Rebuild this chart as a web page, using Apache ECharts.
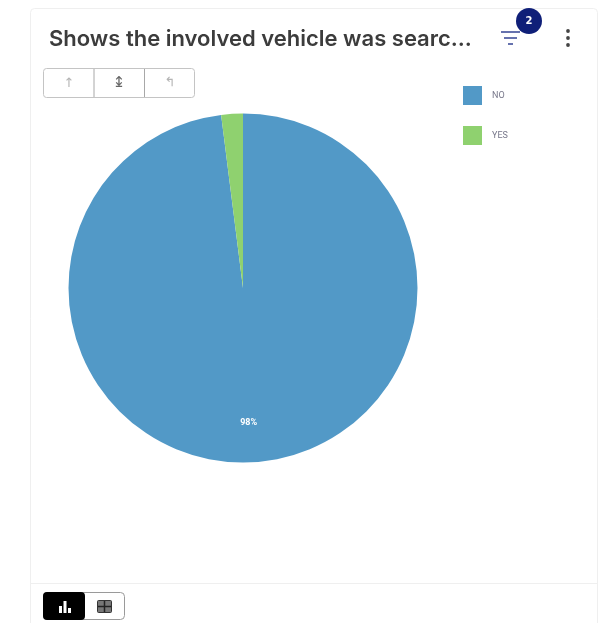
<!DOCTYPE html>
<html>
<head>
<meta charset="utf-8">
<style>
  html, body { margin: 0; padding: 0; background: #fff; }
  #chart { width: 608px; height: 623px; }
</style>
<script src="https://cdn.jsdelivr.net/npm/echarts@6/dist/echarts.min.js"></script>
</head>
<body>
<div id="chart"></div>
<script>
const categories = ['NO', 'YES'];
const shares = [98, 2];
const colors = ['#5299c7', '#8fd16f'];
const titleText = 'Shows the involved vehicle was searc...';
const filterCount = '2';

const line = (x1, y1, x2, y2, stroke, lineWidth) => ({
  type: 'line', silent: true,
  shape: { x1, y1, x2, y2 },
  style: { stroke, lineWidth }
});
const box = (x, y, width, height, r, fill, stroke) => ({
  type: 'rect', silent: true,
  shape: { x, y, width, height, r },
  style: { fill, stroke, lineWidth: stroke ? 1 : 0 }
});
const glyph = (x, y, text, fontSize, fill, fontWeight) => ({
  type: 'text', silent: true, x, y,
  style: {
    text, fontSize, fill, fontWeight: fontWeight || 'normal',
    fontFamily: 'DejaVu Sans', align: 'center', verticalAlign: 'middle'
  }
});

const chrome = [
  // card outline and footer rule
  box(30.5, 8.5, 567, 640, 4, '#fff', '#efefef'),
  line(31, 583.5, 597, 583.5, '#efefef', 1),

  // drill toolbar
  box(43.5, 68.5, 151, 29, 3, '#fff', '#c4c4c4'),
  line(94, 69, 94, 97, '#a8a8a8', 1),
  line(144.5, 69, 144.5, 97, '#a8a8a8', 1),
  glyph(69, 84, '↑', 13, '#b4b4b4'),
  glyph(119, 83, '↨', 15, '#666'),
  glyph(170, 83, '↰', 13, '#b4b4b4'),

  // filter icon with count badge
  line(501, 32, 520, 32, '#3f4f9a', 1.6),
  line(504, 38, 517, 38, '#3f4f9a', 1.6),
  line(508, 44, 513, 44, '#3f4f9a', 1.6),
  { type: 'circle', silent: true, shape: { cx: 529, cy: 21, r: 13 }, style: { fill: '#0f1f78' } },
  glyph(529, 21, filterCount, 10, '#fff', 'bold'),

  // overflow menu
  { type: 'circle', silent: true, shape: { cx: 568, cy: 31, r: 1.9 }, style: { fill: '#444' } },
  { type: 'circle', silent: true, shape: { cx: 568, cy: 38, r: 1.9 }, style: { fill: '#444' } },
  { type: 'circle', silent: true, shape: { cx: 568, cy: 45, r: 1.9 }, style: { fill: '#444' } },

  // chart / table toggle
  box(43.5, 592.5, 81, 27, 4, '#fff', '#9a9a9a'),
  box(43, 592, 42, 28, 4, '#000', null),
  box(59, 606, 3, 7, 0, '#fff', null),
  box(63.5, 601, 3, 12, 0, '#fff', null),
  box(68, 608, 3, 5, 0, '#fff', null),
  box(97.5, 600.5, 14, 12, 1, '#777', '#333'),
  line(98, 606.5, 111, 606.5, '#222', 1.5),
  line(104.5, 601, 104.5, 612, '#222', 1.5)
];

const chart = echarts.init(document.getElementById('chart'), null, { renderer: 'canvas' });
chart.setOption({
  animation: false,
  title: {
    text: titleText,
    left: 49, top: 28, padding: 0,
    textStyle: { fontFamily: 'Inter', fontSize: 22, fontWeight: 600, color: '#3c3c3c' }
  },
  legend: {
    orient: 'vertical',
    left: 458, top: 81,
    itemWidth: 19, itemHeight: 19, itemGap: 21,
    icon: 'rect',
    selectedMode: false,
    textStyle: { fontFamily: 'Roboto', fontSize: 9, color: '#77778a', padding: [0, 0, 0, 5] },
    data: categories
  },
  graphic: { elements: chrome },
  series: [{
    type: 'pie',
    center: [243, 288],
    radius: [0, 174.5],
    startAngle: 90,
    clockwise: true,
    silent: true,
    label: {
      show: true, position: 'inside',
      formatter: '{d}%',
      fontFamily: 'Roboto', fontSize: 9, fontWeight: 'bold', color: '#fff'
    },
    labelLayout: { dy: 45 },
    labelLine: { show: false },
    data: categories.map((name, i) => ({
      name,
      value: shares[i],
      itemStyle: { color: colors[i] },
      label: { show: name === 'NO' }
    }))
  }]
});
</script>
</body>
</html>
